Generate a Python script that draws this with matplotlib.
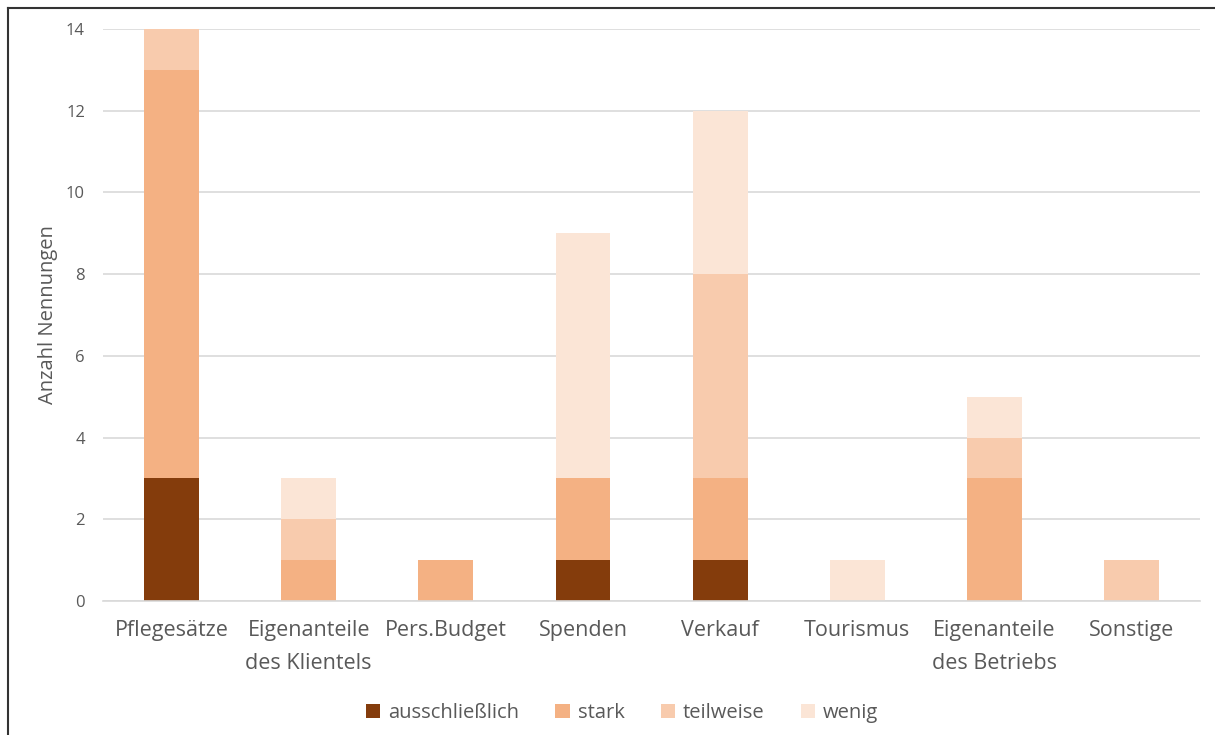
import matplotlib.pyplot as plt
import numpy as np
from matplotlib.lines import Line2D

plt.rcParams['font.family'] = ['Open Sans', 'DejaVu Sans']

# data
kategorien = ["Pflegesätze", "Eigenanteile\ndes Klientels", "Pers.Budget", "Spenden",
              "Verkauf", "Tourismus", "Eigenanteile\ndes Betriebs", "Sonstige"]
ausschliesslich = [3, 0, 0, 1, 1, 0, 0, 0]
stark = [10, 1, 1, 2, 2, 0, 3, 0]
teilweise = [1, 1, 0, 0, 5, 0, 1, 1]
wenig = [0, 1, 0, 6, 4, 1, 1, 0]

serien = [("ausschließlich", ausschliesslich, "#843C0C"),
          ("stark", stark, "#F4B183"),
          ("teilweise", teilweise, "#F8CBAD"),
          ("wenig", wenig, "#FBE5D6")]

fig = plt.figure(figsize=(12.15, 7.35), dpi=100)
ax = fig.add_axes([0.0848, 0.1823, 0.9029, 0.7782])

x = np.arange(len(kategorien))
bottom = np.zeros(len(kategorien))
for name, werte, farbe in serien:
    ax.bar(x, werte, width=0.4, bottom=bottom, color=farbe, label=name, zorder=2)
    bottom += np.array(werte)

# axes styling
ax.set_xlim(-0.5, len(kategorien) - 0.5)
ax.set_ylim(0, 14)
ax.set_yticks(range(0, 15, 2))
ax.set_xticks(x)
ax.set_xticklabels(kategorien, fontsize=15.5, color="#595959", linespacing=1.7)
ax.tick_params(axis="y", labelsize=12, colors="#595959", length=0, pad=13)
ax.tick_params(axis="x", length=0, pad=14)
ax.grid(axis="y", color="#D9D9D9", linewidth=1.2, zorder=0)
for s in ["top", "right", "left"]:
    ax.spines[s].set_visible(False)
ax.spines["bottom"].set_color("#D9D9D9")
ax.spines["bottom"].set_linewidth(1.2)

ax.set_ylabel("Anzahl Nennungen", fontsize=14.5, color="#595959", labelpad=6)

fig.legend(loc="center", bbox_to_anchor=(0.512, 0.03), ncol=4, frameon=False,
           fontsize=14.5, labelcolor="#595959", handlelength=0.7, handleheight=0.7,
           handletextpad=0.4, columnspacing=1.8)

# frame lines (top and left)
fig.add_artist(Line2D([0.0066, 1.0], [0.989, 0.989], color="#333333", linewidth=1.5))
fig.add_artist(Line2D([0.0066, 0.0066], [0.0, 0.989], color="#333333", linewidth=1.5))

fig.savefig("out.png", dpi=100)
